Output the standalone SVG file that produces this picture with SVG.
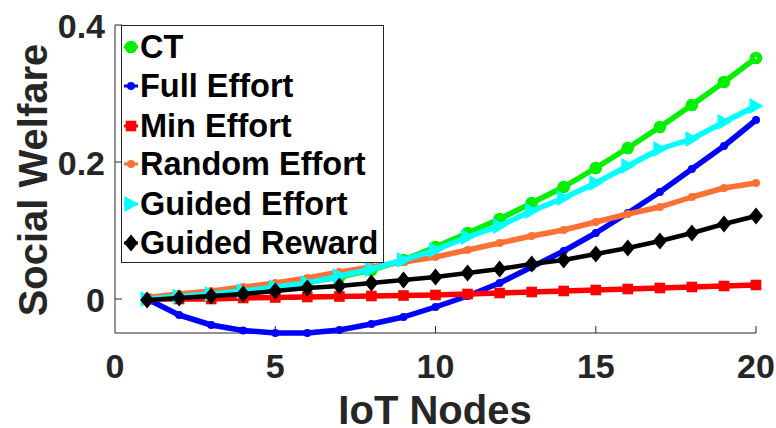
<svg xmlns="http://www.w3.org/2000/svg" xmlns:xlink="http://www.w3.org/1999/xlink" width="776" height="428" viewBox="0 0 776 428">
  <style>
    .axis { stroke: #262626; stroke-width: 1; fill: none; }
    .tick { font-family: "Liberation Sans", Arial, sans-serif; font-weight: bold; font-size: 34px; fill: #262626; }
    .label { font-family: "Liberation Sans", Arial, sans-serif; font-weight: bold; font-size: 40px; fill: #262626; }
    .ct { stroke: #00f000; fill: #00f000; }
    .full { stroke: #0000ff; fill: #0000ff; }
    .min { stroke: #ff0000; fill: #ff0000; }
    .rand { stroke: #ff7034; fill: #ff7034; }
    .geff { stroke: #00ffff; fill: #00ffff; }
    .grew { stroke: #000000; fill: #000000; }
    .series { fill: none; stroke-width: 5.5; stroke-linejoin: round; stroke-linecap: round; }
    .leg { font-family: "Liberation Sans", Arial, sans-serif; font-weight: bold; font-size: 32.5px; fill: #000000; stroke: none; }
    .mk { stroke: none; }
  </style>
  <defs>
    <circle id="mk-circle" class="mk" cx="0" cy="0" r="6.3"/>
    <circle id="mk-dot" class="mk" cx="0" cy="0" r="4"/>
    <rect id="mk-square" class="mk" x="-5.3" y="-5.3" width="10.6" height="10.6"/>
    <path id="mk-tri" class="mk" d="M-6.5,-8 L7.5,0 L-6.5,8 Z"/>
    <path id="mk-diamond" class="mk" d="M0,-8.5 L7,0 L0,8.5 L-7,0 Z"/>
  </defs>

  <rect width="776" height="428" fill="#ffffff"/>

  <!-- axes -->
  <g id="axes">
    <path class="axis" d="M115,25 V333 H756"/>
    <path class="axis" d="M115,299 H122 M115,162 H122 M115,25 H122"/>
    <path class="axis" d="M275.3,333 V326 M435.5,333 V326 M595.8,333 V326 M756,333 V326"/>
    <text class="tick" x="105" y="312" text-anchor="end">0</text>
    <text class="tick" x="105" y="175" text-anchor="end">0.2</text>
    <text class="tick" x="105" y="38" text-anchor="end">0.4</text>
    <text class="tick" x="115" y="378" text-anchor="middle">0</text>
    <text class="tick" x="275.3" y="378" text-anchor="middle">5</text>
    <text class="tick" x="435.5" y="378" text-anchor="middle">10</text>
    <text class="tick" x="595.8" y="378" text-anchor="middle">15</text>
    <text class="tick" x="756" y="378" text-anchor="middle">20</text>
    <text class="label" x="435" y="424" text-anchor="middle">IoT Nodes</text>
    <text class="label" transform="translate(47,180) rotate(-90)" text-anchor="middle">Social Welfare</text>
  </g>

  <!-- data series -->
  <g id="connectors">
    <g id="series-ct" class="ct">
      <polyline class="series" points="147.1,299 179.1,296.5 211.2,294 243.2,291 275.3,287 307.3,282.5 339.4,277 371.4,270 403.5,260 435.5,247 467.6,233 499.6,219 531.7,203 563.7,187 595.8,168 627.8,148 659.9,127 691.9,105 724,82 756,58"/>
      <use xlink:href="#mk-circle" x="147.1" y="299"/><use xlink:href="#mk-circle" x="179.1" y="296.5"/><use xlink:href="#mk-circle" x="211.2" y="294"/><use xlink:href="#mk-circle" x="243.2" y="291"/><use xlink:href="#mk-circle" x="275.3" y="287"/><use xlink:href="#mk-circle" x="307.3" y="282.5"/><use xlink:href="#mk-circle" x="339.4" y="277"/><use xlink:href="#mk-circle" x="371.4" y="270"/><use xlink:href="#mk-circle" x="403.5" y="260"/><use xlink:href="#mk-circle" x="435.5" y="247"/><use xlink:href="#mk-circle" x="467.6" y="233"/><use xlink:href="#mk-circle" x="499.6" y="219"/><use xlink:href="#mk-circle" x="531.7" y="203"/><use xlink:href="#mk-circle" x="563.7" y="187"/><use xlink:href="#mk-circle" x="595.8" y="168"/><use xlink:href="#mk-circle" x="627.8" y="148"/><use xlink:href="#mk-circle" x="659.9" y="127"/><use xlink:href="#mk-circle" x="691.9" y="105"/><use xlink:href="#mk-circle" x="724" y="82"/><use xlink:href="#mk-circle" x="756" y="58"/>
      <circle cx="756" cy="58" r="1.3" fill="#ffffff" stroke="none"/>
    </g>
    <g id="series-full" class="full">
      <polyline class="series" points="147.1,299 179.1,315 211.2,325 243.2,330.5 275.3,333 307.3,333 339.4,330 371.4,324 403.5,317 435.5,307 467.6,296 499.6,283 531.7,267 563.7,251 595.8,233 627.8,213 659.9,192 691.9,169 724,146 756,120"/>
      <use xlink:href="#mk-dot" x="147.1" y="299"/><use xlink:href="#mk-dot" x="179.1" y="315"/><use xlink:href="#mk-dot" x="211.2" y="325"/><use xlink:href="#mk-dot" x="243.2" y="330.5"/><use xlink:href="#mk-dot" x="275.3" y="333"/><use xlink:href="#mk-dot" x="307.3" y="333"/><use xlink:href="#mk-dot" x="339.4" y="330"/><use xlink:href="#mk-dot" x="371.4" y="324"/><use xlink:href="#mk-dot" x="403.5" y="317"/><use xlink:href="#mk-dot" x="435.5" y="307"/><use xlink:href="#mk-dot" x="467.6" y="296"/><use xlink:href="#mk-dot" x="499.6" y="283"/><use xlink:href="#mk-dot" x="531.7" y="267"/><use xlink:href="#mk-dot" x="563.7" y="251"/><use xlink:href="#mk-dot" x="595.8" y="233"/><use xlink:href="#mk-dot" x="627.8" y="213"/><use xlink:href="#mk-dot" x="659.9" y="192"/><use xlink:href="#mk-dot" x="691.9" y="169"/><use xlink:href="#mk-dot" x="724" y="146"/><use xlink:href="#mk-dot" x="756" y="120"/>
    </g>
    <g id="series-min" class="min">
      <polyline class="series" points="147.1,299 179.1,299 211.2,299 243.2,298 275.3,297.5 307.3,297 339.4,296.5 371.4,296 403.5,295.5 435.5,295 467.6,294 499.6,293 531.7,292 563.7,291 595.8,290 627.8,289 659.9,288 691.9,287 724,286 756,285"/>
      <use xlink:href="#mk-square" x="147.1" y="299"/><use xlink:href="#mk-square" x="179.1" y="299"/><use xlink:href="#mk-square" x="211.2" y="299"/><use xlink:href="#mk-square" x="243.2" y="298"/><use xlink:href="#mk-square" x="275.3" y="297.5"/><use xlink:href="#mk-square" x="307.3" y="297"/><use xlink:href="#mk-square" x="339.4" y="296.5"/><use xlink:href="#mk-square" x="371.4" y="296"/><use xlink:href="#mk-square" x="403.5" y="295.5"/><use xlink:href="#mk-square" x="435.5" y="295"/><use xlink:href="#mk-square" x="467.6" y="294"/><use xlink:href="#mk-square" x="499.6" y="293"/><use xlink:href="#mk-square" x="531.7" y="292"/><use xlink:href="#mk-square" x="563.7" y="291"/><use xlink:href="#mk-square" x="595.8" y="290"/><use xlink:href="#mk-square" x="627.8" y="289"/><use xlink:href="#mk-square" x="659.9" y="288"/><use xlink:href="#mk-square" x="691.9" y="287"/><use xlink:href="#mk-square" x="724" y="286"/><use xlink:href="#mk-square" x="756" y="285"/>
    </g>
    <g id="series-random" class="rand">
      <polyline class="series" points="147.1,297.5 179.1,294 211.2,291 243.2,287 275.3,283 307.3,278 339.4,272 371.4,267 403.5,262 435.5,257 467.6,250 499.6,243 531.7,236 563.7,230 595.8,222 627.8,214 659.9,207 691.9,197 724,188 756,183"/>
      <use xlink:href="#mk-dot" x="147.1" y="297.5"/><use xlink:href="#mk-dot" x="179.1" y="294"/><use xlink:href="#mk-dot" x="211.2" y="291"/><use xlink:href="#mk-dot" x="243.2" y="287"/><use xlink:href="#mk-dot" x="275.3" y="283"/><use xlink:href="#mk-dot" x="307.3" y="278"/><use xlink:href="#mk-dot" x="339.4" y="272"/><use xlink:href="#mk-dot" x="371.4" y="267"/><use xlink:href="#mk-dot" x="403.5" y="262"/><use xlink:href="#mk-dot" x="435.5" y="257"/><use xlink:href="#mk-dot" x="467.6" y="250"/><use xlink:href="#mk-dot" x="499.6" y="243"/><use xlink:href="#mk-dot" x="531.7" y="236"/><use xlink:href="#mk-dot" x="563.7" y="230"/><use xlink:href="#mk-dot" x="595.8" y="222"/><use xlink:href="#mk-dot" x="627.8" y="214"/><use xlink:href="#mk-dot" x="659.9" y="207"/><use xlink:href="#mk-dot" x="691.9" y="197"/><use xlink:href="#mk-dot" x="724" y="188"/><use xlink:href="#mk-dot" x="756" y="183"/>
    </g>
    <g id="series-guided-effort" class="geff">
      <polyline class="series" points="147.1,299 179.1,296.5 211.2,294 243.2,291 275.3,287 307.3,283 339.4,276 371.4,269 403.5,260 435.5,250 467.6,237 499.6,226 531.7,211 563.7,198 595.8,183 627.8,166 659.9,149 691.9,139 724,122 756,106"/>
      <use xlink:href="#mk-tri" x="147.1" y="299"/><use xlink:href="#mk-tri" x="179.1" y="296.5"/><use xlink:href="#mk-tri" x="211.2" y="294"/><use xlink:href="#mk-tri" x="243.2" y="291"/><use xlink:href="#mk-tri" x="275.3" y="287"/><use xlink:href="#mk-tri" x="307.3" y="283"/><use xlink:href="#mk-tri" x="339.4" y="276"/><use xlink:href="#mk-tri" x="371.4" y="269"/><use xlink:href="#mk-tri" x="403.5" y="260"/><use xlink:href="#mk-tri" x="435.5" y="250"/><use xlink:href="#mk-tri" x="467.6" y="237"/><use xlink:href="#mk-tri" x="499.6" y="226"/><use xlink:href="#mk-tri" x="531.7" y="211"/><use xlink:href="#mk-tri" x="563.7" y="198"/><use xlink:href="#mk-tri" x="595.8" y="183"/><use xlink:href="#mk-tri" x="627.8" y="166"/><use xlink:href="#mk-tri" x="659.9" y="149"/><use xlink:href="#mk-tri" x="691.9" y="139"/><use xlink:href="#mk-tri" x="724" y="122"/><use xlink:href="#mk-tri" x="756" y="106"/>
    </g>
    <g id="series-guided-reward" class="grew">
      <polyline class="series" points="147.1,300 179.1,298 211.2,296 243.2,294 275.3,291 307.3,288 339.4,286 371.4,283 403.5,280 435.5,277 467.6,273 499.6,269 531.7,264 563.7,260 595.8,254 627.8,248 659.9,241 691.9,233 724,224 756,216" style="stroke-width:4.5"/>
      <use xlink:href="#mk-diamond" x="147.1" y="300"/><use xlink:href="#mk-diamond" x="179.1" y="298"/><use xlink:href="#mk-diamond" x="211.2" y="296"/><use xlink:href="#mk-diamond" x="243.2" y="294"/><use xlink:href="#mk-diamond" x="275.3" y="291"/><use xlink:href="#mk-diamond" x="307.3" y="288"/><use xlink:href="#mk-diamond" x="339.4" y="286"/><use xlink:href="#mk-diamond" x="371.4" y="283"/><use xlink:href="#mk-diamond" x="403.5" y="280"/><use xlink:href="#mk-diamond" x="435.5" y="277"/><use xlink:href="#mk-diamond" x="467.6" y="273"/><use xlink:href="#mk-diamond" x="499.6" y="269"/><use xlink:href="#mk-diamond" x="531.7" y="264"/><use xlink:href="#mk-diamond" x="563.7" y="260"/><use xlink:href="#mk-diamond" x="595.8" y="254"/><use xlink:href="#mk-diamond" x="627.8" y="248"/><use xlink:href="#mk-diamond" x="659.9" y="241"/><use xlink:href="#mk-diamond" x="691.9" y="233"/><use xlink:href="#mk-diamond" x="724" y="224"/><use xlink:href="#mk-diamond" x="756" y="216"/>
    </g>
  </g>

  <!-- legend -->
  <g id="legend">
    <rect x="121.5" y="25.5" width="262" height="237" fill="#ffffff" stroke="#262626" stroke-width="1"/>
    <g id="legend-ct" class="ct">
      <line x1="124" y1="47" x2="138" y2="47" stroke-width="3"/>
      <use xlink:href="#mk-circle" x="131" y="47"/>
      <text class="leg" x="140" y="58">CT</text>
    </g>
    <g id="legend-full" class="full">
      <line x1="124" y1="86" x2="138" y2="86" stroke-width="3"/>
      <use xlink:href="#mk-dot" x="131" y="86"/>
      <text class="leg" x="140" y="97">Full Effort</text>
    </g>
    <g id="legend-min" class="min">
      <line x1="124" y1="126" x2="138" y2="126" stroke-width="3"/>
      <use xlink:href="#mk-square" x="131" y="126"/>
      <text class="leg" x="140" y="137">Min Effort</text>
    </g>
    <g id="legend-random" class="rand">
      <line x1="124" y1="164" x2="138" y2="164" stroke-width="3"/>
      <use xlink:href="#mk-dot" x="131" y="164"/>
      <text class="leg" x="140" y="175">Random Effort</text>
    </g>
    <g id="legend-guided-effort" class="geff">
      <line x1="124" y1="204" x2="138" y2="204" stroke-width="3"/>
      <use xlink:href="#mk-tri" x="131" y="204"/>
      <text class="leg" x="140" y="215">Guided Effort</text>
    </g>
    <g id="legend-guided-reward" class="grew">
      <line x1="124" y1="243" x2="138" y2="243" stroke-width="3"/>
      <use xlink:href="#mk-diamond" x="131" y="243"/>
      <text class="leg" x="140" y="254">Guided Reward</text>
    </g>
  </g>
</svg>
